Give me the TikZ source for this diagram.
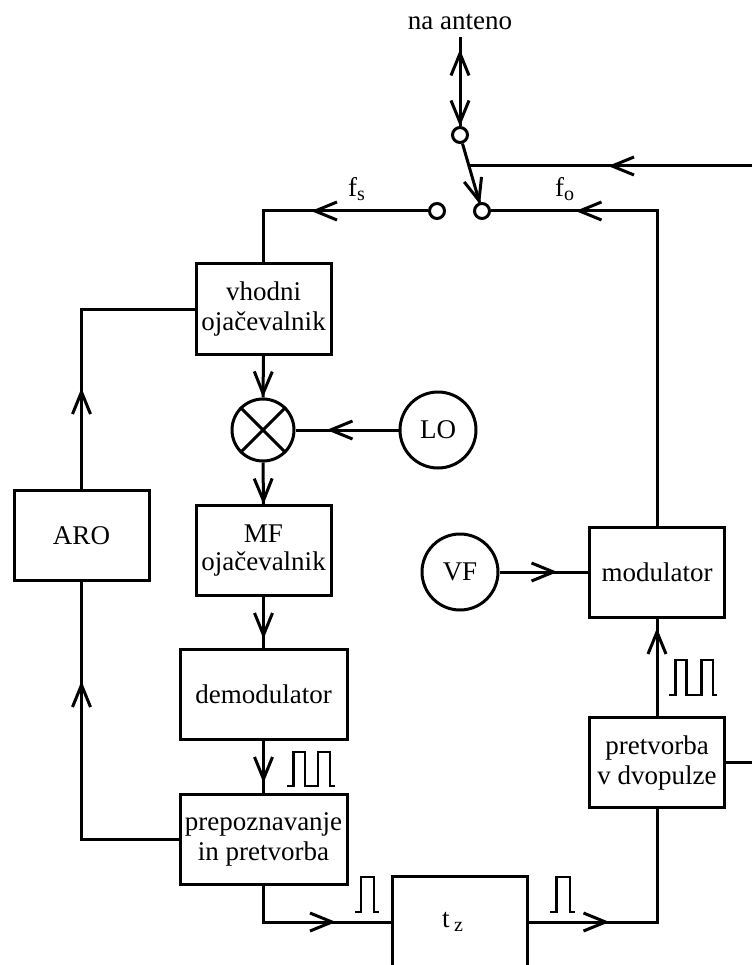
\documentclass[tikz,border=0pt]{standalone}
\usepackage{fontspec}
\setmainfont{Liberation Serif}
\usetikzlibrary{decorations.markings}
\newcommand{\subsc}[1]{\raisebox{-0.12em}{\fontsize{20}{20}\selectfont #1}}
\newcommand{\barbfwd}{\draw[line width=3pt,line join=miter] (-22pt,-9pt) -- (0pt,0pt) -- (-22pt,9pt);}
\newcommand{\barbrev}{\draw[line width=3pt,line join=miter] (22pt,-9pt) -- (0pt,0pt) -- (22pt,9pt);}
\tikzset{
  wire/.style={line width=3pt,line join=miter},
  bx/.style={draw,line width=3pt,fill=white,minimum width=135pt,minimum height=90pt,inner sep=0pt,align=center,
    font=\fontsize{27}{30}\selectfont},
  wbx/.style={bx,minimum width=167pt},
  osc/.style={draw,line width=3pt,fill=white,circle,minimum size=76pt,inner sep=0pt,font=\fontsize{27}{30}\selectfont},
  contact/.style={draw,line width=3pt,fill=white,circle,minimum size=15pt,inner sep=0pt},
  lab/.style={inner sep=0pt,font=\fontsize{27}{30}\selectfont},
  arr/.style={postaction={decorate},decoration={markings,mark=at position #1 with {\barbfwd}}},
  arrr/.style 2 args={postaction={decorate},decoration={markings,mark=at position #1 with {\barbrev},mark=at position #2 with {\barbfwd}}},
  pulse/.style={line width=2.6pt,line join=miter}
}
\begin{document}
\begin{tikzpicture}[x=1pt,y=-1pt]
\useasboundingbox (0,0) rectangle (752,965);
\node[lab,inner sep=7pt,anchor=base] (ant) at (460,30) {na anteno};
\node[contact] (top) at (460,135) {};
\node[contact] (cl) at (437,211) {};
\node[contact] (cr) at (482,211) {};
\coordinate (join) at (470,166);
\coordinate (rtop) at (752,166);
\coordinate (rmid) at (752,762.5);
\node[bx] (vh) at (263.5,309) {vhodni\\ojačevalnik};
\node[draw,line width=3pt,circle,minimum size=62pt,inner sep=0pt] (mix) at (263,430) {};
\node[osc] (lo) at (438,430) {LO};
\node[bx] (mf) at (263.5,550.5) {MF\\[-2pt]ojačevalnik};
\node[wbx] (dem) at (263.5,694.5) {demodulator};
\node[wbx] (prep) at (263.5,839) {prepoznavanje\\in pretvorba};
\node[bx] (aro) at (81.5,535.5) {ARO};
\node[osc] (vf) at (460,572) {VF};
\node[bx] (mod) at (657,572) {modulator};
\node[bx] (pre) at (657,762.5) {pretvorba\\v dvopulze};
\node[bx,minimum height=92pt] (tz) at (459.5,922) {t\,\subsc{z}\hspace{14pt}};
\node[lab,anchor=base west] at (348,197) {f\subsc{s}};
\node[lab,anchor=base west] at (555,197) {f\subsc{o}};
% cross in the mixer
\draw[wire] (mix.45) -- (mix.225) (mix.135) -- (mix.315);
% connectors
\draw[wire,arrr={16pt}{85pt}] (ant.south) -- (top.north);
\draw[wire,arr=0.97] (top) -- (cr);
\draw[wire,arr=140pt] (rtop) -- (join);
\draw[wire,arr=392pt] (mod.north) |- (cr.east);
\draw[wire,arr=113pt] (cl.west) -| (vh.north);
\draw[wire,arr=38pt] (vh.south) -- (mix.north);
\draw[wire,arr=38pt] (mix.south) -- (mf.north);
\draw[wire,arr=68pt] (lo.west) -- (mix.east);
\draw[wire,arr=38pt] (mf.south) -- (dem.north);
\draw[wire,arr=38pt] (dem.south) -- (prep.north);
\draw[wire,arr=54pt] (vf.east) -- (mod.west);
\draw[wire,arr=84pt] (pre.north) -- (mod.south);
\draw[wire] (pre.east) -- (rmid);
\draw[wire,arr=97pt] (aro.north) |- (vh.west);
\draw[wire,arr=251pt] (prep.west) -| (aro.south);
\draw[wire,arr=105pt] (prep.south) |- (tz.west);
\draw[wire,arr=77pt] (tz.east) -| (pre.south);
% pulses
\draw[pulse] (355,912) -- (361,912) -- (361,877) -- (374,877) -- (374,912) -- (379,912);
\draw[pulse] (550,912) -- (556.5,912) -- (556.5,877) -- (570,877) -- (570,912) -- (575,912);
\draw[pulse] (287,786) -- (293.5,786) -- (293.5,752) -- (305,752) -- (305,786) -- (318,786) -- (318,752) -- (330,752) -- (330,786) -- (335,786);
\draw[pulse] (669,695) -- (675.5,695) -- (675.5,660) -- (686.5,660) -- (686.5,695) -- (701.5,695) -- (701.5,660) -- (713,660) -- (713,695) -- (717,695);
\end{tikzpicture}
\end{document}
